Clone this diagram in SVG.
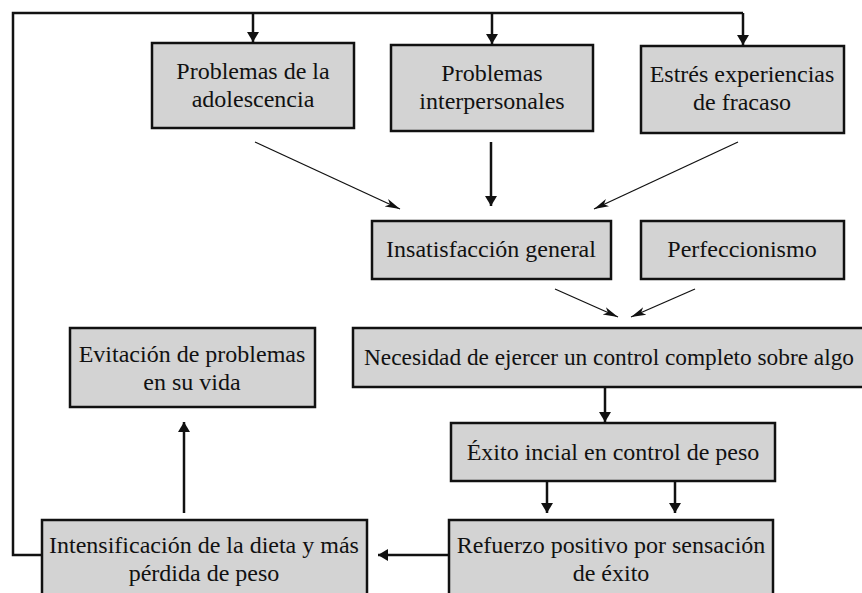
<svg xmlns="http://www.w3.org/2000/svg" width="862" height="593" viewBox="0 0 862 593">
<style>
.box{fill:#d3d3d3;stroke:#111;stroke-width:2.5}
.t{font-family:"Liberation Serif","Times New Roman",serif;font-size:24px;fill:#111;text-anchor:middle}
.c{fill:none;stroke:#111;stroke-width:2.5}
.d{fill:none;stroke:#111;stroke-width:1.3}
</style>
<defs>
<marker id="ah" markerWidth="12" markerHeight="12" refX="10" refY="6" orient="auto" markerUnits="userSpaceOnUse">
<path d="M0,0 L10,6 L0,12 Z" fill="#111"/>
</marker>
<marker id="as" markerWidth="16" markerHeight="10" refX="15" refY="5" orient="auto" markerUnits="userSpaceOnUse">
<path d="M0,1 L15,5 L0,9 L4,5 Z" fill="#111"/>
</marker>
</defs>
<rect width="862" height="593" fill="#fff"/>
<g id="connectors">
<path class="c" d="M42,555 H13 V13 H743"/>
<line class="c" x1="253" y1="13" x2="253" y2="42" marker-end="url(#ah)"/>
<line class="c" x1="492" y1="13" x2="492" y2="44" marker-end="url(#ah)"/>
<line class="c" x1="743" y1="13" x2="743" y2="45" marker-end="url(#ah)"/>
<line class="d" x1="255" y1="142" x2="400" y2="209" marker-end="url(#as)"/>
<line class="c" x1="491" y1="142" x2="491" y2="206" marker-end="url(#ah)"/>
<line class="d" x1="738" y1="142" x2="594" y2="209" marker-end="url(#as)"/>
<line class="d" x1="555" y1="289" x2="618" y2="317" marker-end="url(#as)"/>
<line class="d" x1="695" y1="289" x2="631" y2="317" marker-end="url(#as)"/>
<line class="c" x1="605" y1="387" x2="605" y2="422" marker-end="url(#ah)"/>
<line class="c" x1="547" y1="481" x2="547" y2="513" marker-end="url(#ah)"/>
<line class="c" x1="675" y1="481" x2="675" y2="513" marker-end="url(#ah)"/>
<line class="c" x1="449" y1="555" x2="378" y2="555" marker-end="url(#ah)"/>
<line class="c" x1="184" y1="513" x2="184" y2="422" marker-end="url(#ah)"/>
</g>
<g id="n1"><rect class="box" x="152" y="43" width="202" height="85"/><text class="t" x="253" y="79">Problemas de la</text><text class="t" x="253" y="107">adolescencia</text></g>
<g id="n2"><rect class="box" x="391" y="45" width="202" height="86"/><text class="t" x="492" y="81">Problemas</text><text class="t" x="492" y="109">interpersonales</text></g>
<g id="n3"><rect class="box" x="641" y="46" width="203" height="87"/><text class="t" x="742" y="82">Estrés experiencias</text><text class="t" x="742" y="110">de fracaso</text></g>
<g id="n4"><rect class="box" x="372" y="221" width="239" height="58"/><text class="t" x="491" y="257">Insatisfacción general</text></g>
<g id="n5"><rect class="box" x="641" y="221" width="203" height="58"/><text class="t" x="742" y="257">Perfeccionismo</text></g>
<g id="n6"><rect class="box" x="353" y="328" width="515" height="59"/><text class="t" x="609" y="365" style="font-size:23.5px" textLength="490" lengthAdjust="spacingAndGlyphs">Necesidad de ejercer un control completo sobre algo</text></g>
<g id="n7"><rect class="box" x="70" y="328" width="245" height="79"/><text class="t" x="192" y="362">Evitación de problemas</text><text class="t" x="192" y="390">en su vida</text></g>
<g id="n8"><rect class="box" x="451" y="423" width="324" height="58"/><text class="t" x="613" y="460">Éxito incial en control de peso</text></g>
<g id="n9"><rect class="box" x="449" y="520" width="324" height="80"/><text class="t" x="611" y="553">Refuerzo positivo por sensación</text><text class="t" x="611" y="581">de éxito</text></g>
<g id="n10"><rect class="box" x="42" y="520" width="325" height="80"/><text class="t" x="204" y="553">Intensificación de la dieta y más</text><text class="t" x="204" y="581">pérdida de peso</text></g>
</svg>
